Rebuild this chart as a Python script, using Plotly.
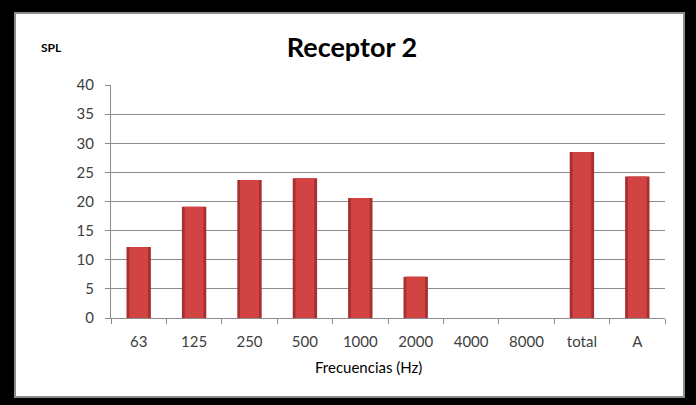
import plotly.graph_objects as go

# Sound pressure level per octave band at receptor 2
categories = ["63", "125", "250", "500", "1000", "2000", "4000", "8000", "total", "A"]
spl_values = [12.2, 19.1, 23.7, 24.0, 20.6, 7.1, 0, 0, 28.5, 24.3]
y_ticks = [0, 5, 10, 15, 20, 25, 30, 35, 40]

W, H = 696, 405
ML, MR, MT, MB = 111, 31, 85, 87
PW, PH = W - ML - MR, H - MT - MB


def px_x(x):
    return (x - ML) / PW


def px_y(y):
    return (H - MB - y) / PH


font_family = "Lato, 'Open Sans', sans-serif"

fig = go.Figure()

# darker outer body of each bar (shaded edges)
fig.add_trace(go.Bar(
    x=categories, y=spl_values, width=0.44,
    marker=dict(color="#a62f2f", line=dict(width=0)),
    hoverinfo="skip", showlegend=False,
))
# lighter centre face of each bar
fig.add_trace(go.Bar(
    x=categories, y=spl_values, width=0.34,
    marker=dict(color="#d24444", line=dict(width=0)),
    showlegend=False,
))

fig.update_layout(
    width=W, height=H,
    margin=dict(l=ML, r=MR, t=MT, b=MB),
    paper_bgcolor="black",
    plot_bgcolor="white",
    barmode="overlay",
    font=dict(family=font_family, color="#404040"),
    title=dict(
        text="<b>Receptor 2</b>",
        x=px_x(352), xref="paper", xanchor="center",
        y=1 - 48 / H, yref="container", yanchor="middle",
        font=dict(size=27, color="black", family=font_family),
    ),
    xaxis=dict(
        type="category",
        categoryorder="array", categoryarray=categories,
        showline=True, linecolor="#8c8c8c", linewidth=1,
        ticks="outside", tickson="boundaries", ticklen=5, tickcolor="#8c8c8c",
        tickfont=dict(size=15, color="#404040"),
        ticklabelstandoff=10,
        showgrid=False,
    ),
    yaxis=dict(
        range=[0, 40],
        tickvals=y_ticks,
        showline=True, linecolor="#8c8c8c", linewidth=1,
        ticks="outside", ticklen=5, tickcolor="#8c8c8c",
        tickfont=dict(size=15, color="#404040"),
        ticklabelstandoff=8,
        showgrid=True, gridcolor="#8c8c8c", gridwidth=1,
        zeroline=False,
    ),
    shapes=[
        # white chart area inside the black frame
        dict(
            type="rect", xref="paper", yref="paper", layer="below",
            x0=px_x(15), x1=px_x(684), y0=px_y(397), y1=px_y(13),
            fillcolor="white", line=dict(color="#8c8c8c", width=2),
        ),
    ],
    annotations=[
        dict(
            text="<b>SPL</b>", xref="paper", yref="paper",
            x=px_x(51), y=px_y(47), xanchor="center", yanchor="middle",
            showarrow=False, font=dict(size=12, color="black"),
        ),
        dict(
            text="Frecuencias (Hz)", xref="paper", yref="paper",
            x=px_x(368), y=px_y(367), xanchor="center", yanchor="middle",
            showarrow=False, font=dict(size=15, color="black"),
        ),
    ],
)

fig.write_html("out.html")
